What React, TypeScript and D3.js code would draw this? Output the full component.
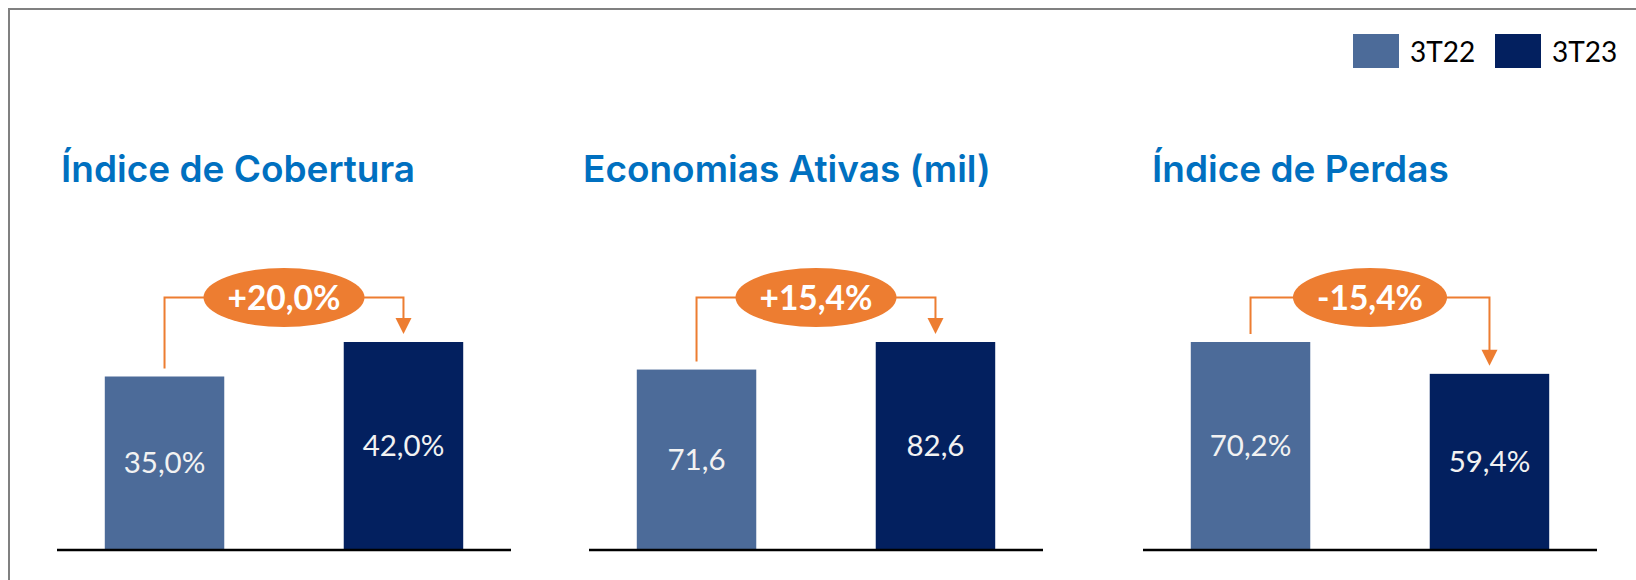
import React, { useEffect, useRef } from 'react';
import * as d3 from 'd3';

// --- data ---
const periods = ['3T22', '3T23'];
const titles = ['Índice de Cobertura', 'Economias Ativas (mil)', 'Índice de Perdas'];
const values3T22 = [35.0, 71.6, 70.2];
const values3T23 = [42.0, 82.6, 59.4];
const units = ['%', '', '%'];
const changeLabels = ['+20,0%', '+15,4%', '-15,4%'];

// --- layout ---
const W = 1636;
const H = 580;
const panelX = [57, 589, 1143]; // left end of each baseline
const titleX = [61, 583, 1152];
const panelW = 454;
const baseY = 549;
const topY = 342;
const lineY = 297.5;

const colors = { '3T22': '#4C6B99', '3T23': '#03205F' };
const orange = '#ED7D31';
const titleBlue = '#0070C0';
const labelFont = "Lato, 'Open Sans', sans-serif";

const ptBR = d3.formatLocale({ decimal: ',', thousands: '.', grouping: [3], currency: ['R$', ''] });
const fmt = ptBR.format('.1f');

function App() {
  const ref = useRef<SVGSVGElement>(null);

  useEffect(() => {
    document.body.style.margin = '0';
    const svg = d3.select(ref.current);
    svg.selectAll('*').remove();

    // frame (only top and left edges are visible in the crop)
    svg.append('rect')
      .attr('x', 9).attr('y', 9)
      .attr('width', W + 50).attr('height', H + 50)
      .attr('fill', 'none')
      .attr('stroke', '#808080')
      .attr('stroke-width', 2);

    // legend
    const legend = svg.append('g');
    const legX = [1353, 1495];
    periods.forEach((p, i) => {
      legend.append('rect')
        .attr('x', legX[i]).attr('y', 34)
        .attr('width', 46).attr('height', 34)
        .attr('fill', colors[p]);
      legend.append('text')
        .attr('x', legX[i] + 57).attr('y', 62)
        .style('font-family', labelFont)
        .style('font-size', '28px')
        .style('fill', '#000')
        .text(p);
    });

    titles.forEach((title, i) => {
      const vals = [values3T22[i], values3T23[i]];
      const g = svg.append('g');

      const x = d3.scaleBand()
        .domain(periods)
        .range([panelX[i], panelX[i] + panelW])
        .paddingInner(0.5)
        .paddingOuter(0.2);
      const y = d3.scaleLinear()
        .domain([0, d3.max(vals)])
        .range([baseY, topY]);

      // title
      g.append('text')
        .attr('x', titleX[i]).attr('y', 182)
        .style('font-family', 'Inter, sans-serif')
        .style('font-weight', 600)
        .style('font-size', '37px')
        .style('fill', titleBlue)
        .text(title);

      // bars
      g.selectAll('.bar')
        .data(periods.map((p, j) => ({ p, v: vals[j] })))
        .join('rect')
          .attr('class', 'bar')
          .attr('x', d => x(d.p))
          .attr('y', d => y(d.v))
          .attr('width', x.bandwidth())
          .attr('height', d => baseY - y(d.v))
          .attr('fill', d => colors[d.p]);

      // value labels, centred in each bar
      g.selectAll('.val')
        .data(periods.map((p, j) => ({ p, v: vals[j] })))
        .join('text')
          .attr('class', 'val')
          .attr('x', d => x(d.p) + x.bandwidth() / 2)
          .attr('y', d => (y(d.v) + baseY) / 2 + 10.5)
          .attr('text-anchor', 'middle')
          .style('font-family', labelFont)
          .style('font-size', '29.5px')
          .style('fill', '#F2F2F2')
          .text(d => fmt(d.v) + units[i]);

      // baseline
      g.append('line')
        .attr('x1', panelX[i]).attr('x2', panelX[i] + panelW)
        .attr('y1', baseY + 1).attr('y2', baseY + 1)
        .attr('stroke', '#000')
        .attr('stroke-width', 2.5);

      // change annotation
      const x1 = x(periods[0]) + x.bandwidth() / 2;
      const x2 = x(periods[1]) + x.bandwidth() / 2;
      const tipY = y(vals[1]) - 8;
      g.append('path')
        .attr('d', `M${x1},${y(vals[0]) - 8}V${lineY}H${x2}V${tipY - 14}`)
        .attr('fill', 'none')
        .attr('stroke', orange)
        .attr('stroke-width', 2);
      g.append('path')
        .attr('d', `M${x2 - 8},${tipY - 16}L${x2 + 8},${tipY - 16}L${x2},${tipY}Z`)
        .attr('fill', orange);

      const cx = (x1 + x2) / 2;
      const ell = g.append('ellipse')
        .attr('cx', cx).attr('cy', lineY)
        .attr('ry', 29.5)
        .attr('fill', orange);
      const lbl = g.append('text')
        .attr('x', cx).attr('y', lineY + 12)
        .attr('text-anchor', 'middle')
        .style('font-family', labelFont)
        .style('font-weight', 700)
        .style('font-size', '33.5px')
        .style('fill', '#fff')
        .text(changeLabels[i]);
      const tw = (lbl.node() as SVGTextElement).getComputedTextLength();
      ell.attr('rx', tw / 2 + 24);
    });
  }, []);

  return <svg ref={ref} width={W} height={H} style={{ display: 'block', background: '#fff' }} />;
}

export default App;
